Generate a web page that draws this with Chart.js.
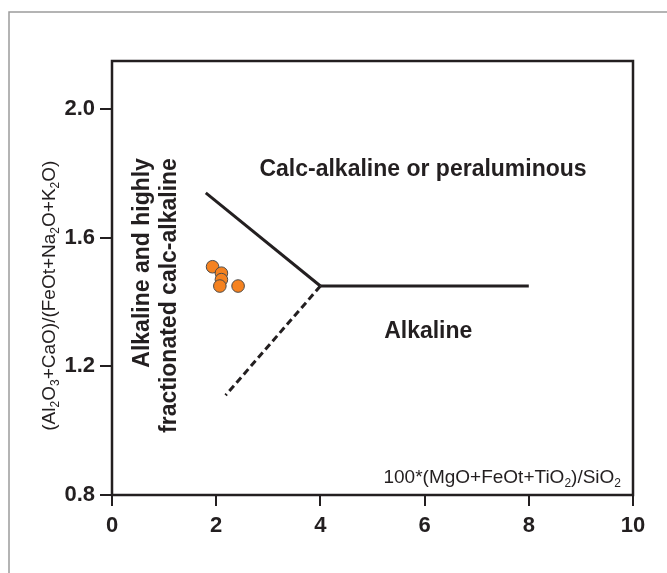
<!DOCTYPE html>
<html>
<head>
<meta charset="utf-8">
<script src="https://cdn.jsdelivr.net/npm/chart.js@4/dist/chart.umd.min.js"></script>
<style>
  html, body { margin: 0; padding: 0; background: #fff; }
  #wrap { width: 667px; height: 573px; }
</style>
</head>
<body>
<div id="wrap"><canvas id="myChart" width="667" height="573"></canvas></div>
<script>
// samples
const sampleX = [1.93, 2.10, 2.10, 2.07, 2.42];
const sampleY = [1.51, 1.49, 1.47, 1.45, 1.45];

// field boundaries
const upperLineX = [1.8, 4];
const upperLineY = [1.74, 1.45];
const flatLineX = [4, 8];
const flatLineY = [1.45, 1.45];
const dashLineX = [4, 2.18];
const dashLineY = [1.45, 1.11];

// axis ticks
const xTicks = [0, 2, 4, 6, 8, 10];
const yTicks = [0.8, 1.2, 1.6, 2.0];

const ink = '#231f20';
const fontName = '"Liberation Sans", Arial, Helvetica, sans-serif';

function toPoints(xs, ys) {
    return xs.map((x, i) => ({ x: x, y: ys[i] }));
}

// draws text with subscripts, parts = [[text, isSub], ...]
function drawRich(ctx, parts, x, y, size, align) {
    const subSize = Math.round(size * 0.62);
    let total = 0;
    parts.forEach(p => {
        ctx.font = (p[1] ? subSize : size) + 'px ' + fontName;
        total += ctx.measureText(p[0]).width;
    });
    let cx = x;
    if (align === 'center') cx = x - total / 2;
    if (align === 'right') cx = x - total;
    ctx.textAlign = 'left';
    ctx.textBaseline = 'middle';
    parts.forEach(p => {
        ctx.font = (p[1] ? subSize : size) + 'px ' + fontName;
        ctx.fillText(p[0], cx, p[1] ? y + size * 0.3 : y);
        cx += ctx.measureText(p[0]).width;
    });
}

const yTitle = [['(Al', 0], ['2', 1], ['O', 0], ['3', 1], ['+CaO)/(FeOt+Na', 0], ['2', 1], ['O+K', 0], ['2', 1], ['O)', 0]];
const xTitle = [['100*(MgO+FeOt+TiO', 0], ['2', 1], [')/SiO', 0], ['2', 1]];

const framePlugin = {
    id: 'frame',
    beforeDraw(chart) {
        const ctx = chart.ctx;
        ctx.save();
        ctx.strokeStyle = '#9c9c9c';
        ctx.lineWidth = 1.5;
        ctx.beginPath();
        ctx.moveTo(9, 573);
        ctx.lineTo(9, 12);
        ctx.lineTo(667, 12);
        ctx.stroke();
        ctx.restore();
    },
    beforeDatasetsDraw(chart) {
        const a = chart.chartArea;
        const ctx = chart.ctx;
        ctx.save();
        ctx.strokeStyle = ink;
        ctx.lineWidth = 2.5;
        ctx.strokeRect(a.left, a.top, a.right - a.left, a.bottom - a.top);
        ctx.restore();
    },
    afterDraw(chart) {
        const ctx = chart.ctx;
        const xs = chart.scales.x;
        const ys = chart.scales.y;
        ctx.save();
        ctx.fillStyle = ink;

        ctx.font = 'bold 23px ' + fontName;
        ctx.textAlign = 'center';
        ctx.textBaseline = 'middle';
        ctx.fillText('Calc-alkaline or peraluminous', xs.getPixelForValue(5.97), ys.getPixelForValue(1.813));
        ctx.fillText('Alkaline', xs.getPixelForValue(6.07), ys.getPixelForValue(1.307));

        // rotated field name
        ctx.save();
        ctx.translate(xs.getPixelForValue(0.585), ys.getPixelForValue(1.848));
        ctx.rotate(-Math.PI / 2);
        ctx.textAlign = 'right';
        ctx.fillText('Alkaline and highly', 0, 0);
        ctx.restore();
        ctx.save();
        ctx.translate(xs.getPixelForValue(1.113), ys.getPixelForValue(1.848));
        ctx.rotate(-Math.PI / 2);
        ctx.textAlign = 'right';
        ctx.fillText('fractionated calc-alkaline', 0, 0);
        ctx.restore();

        // axis titles
        drawRich(ctx, xTitle, xs.getPixelForValue(9.77), ys.getPixelForValue(0.853), 19, 'right');
        ctx.save();
        ctx.translate(50, ys.getPixelForValue(1.42));
        ctx.rotate(-Math.PI / 2);
        drawRich(ctx, yTitle, 0, 0, 19, 'center');
        ctx.restore();

        ctx.restore();
    }
};

const ctx = document.getElementById('myChart').getContext('2d');
const myChart = new Chart(ctx, {
    type: 'scatter',
    data: {
        datasets: [
            {
                data: toPoints(upperLineX, upperLineY),
                showLine: true,
                borderColor: ink,
                borderWidth: 3,
                pointRadius: 0
            },
            {
                data: toPoints(flatLineX, flatLineY),
                showLine: true,
                borderColor: ink,
                borderWidth: 3,
                pointRadius: 0
            },
            {
                data: toPoints(dashLineX, dashLineY),
                showLine: true,
                borderColor: ink,
                borderWidth: 3,
                borderDash: [7, 4],
                pointRadius: 0
            },
            {
                data: toPoints(sampleX, sampleY),
                backgroundColor: '#f58220',
                borderColor: '#4a4a4a',
                borderWidth: 1,
                pointRadius: 6.3
            }
        ]
    },
    options: {
        responsive: false,
        animation: false,
        layout: { padding: { left: 0, top: 61, right: 34, bottom: 0 } },
        plugins: {
            legend: { display: false },
            tooltip: { enabled: false }
        },
        scales: {
            x: {
                type: 'linear',
                min: 0,
                max: 10,
                afterBuildTicks: s => { s.ticks = xTicks.map(v => ({ value: v })); },
                afterFit: s => { s.height = 78; },
                border: { display: false },
                grid: { drawOnChartArea: false, drawTicks: true, tickLength: 11, color: ink, lineWidth: 2 },
                ticks: {
                    color: ink,
                    padding: 7,
                    font: { family: fontName, size: 22, weight: 'bold' },
                    callback: v => String(v)
                }
            },
            y: {
                type: 'linear',
                min: 0.8,
                max: 2.15,
                afterBuildTicks: s => { s.ticks = yTicks.map(v => ({ value: v })); },
                afterFit: s => { s.width = 112; },
                border: { display: false },
                grid: { drawOnChartArea: false, drawTicks: true, tickLength: 12, color: ink, lineWidth: 2 },
                ticks: {
                    color: ink,
                    padding: 5,
                    font: { family: fontName, size: 22, weight: 'bold' },
                    callback: v => v.toFixed(1)
                }
            }
        }
    },
    plugins: [framePlugin]
});
</script>
</body>
</html>
